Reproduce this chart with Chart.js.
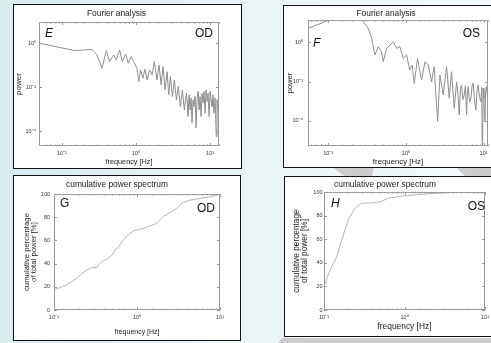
<!DOCTYPE html>
<html>
<head>
<meta charset="utf-8">
<script src="https://cdn.jsdelivr.net/npm/chart.js@4.4.1/dist/chart.umd.min.js"></script>
<style>
  html, body { margin: 0; padding: 0; }
  body {
    width: 491px; height: 343px; overflow: hidden; position: relative;
    background: linear-gradient(90deg, #d8ebf0 0%, #e8f3f6 45%, #f3f9fa 100%);
  }
  .box { position: absolute; border: 1px solid #111; background: #fff; }
  .box canvas { display: block; }
  .deco { position: absolute; background: #cdcdcd; }
</style>
</head>
<body>
<div class="deco" style="left:332px;top:167px;width:42px;height:9px;clip-path:polygon(0 0,100% 0,95% 100%,30% 100%)"></div>
<div class="deco" style="left:456px;top:167px;width:35px;height:9px;clip-path:polygon(0 0,100% 0,100% 100%,25% 100%)"></div>
<div class="deco" style="left:278px;top:338px;width:213px;height:5px;clip-path:polygon(2% 0,100% 0,100% 100%,0 100%)"></div>

<div class="box" style="left:13px;top:4px;width:227px;height:163px"><canvas id="chartE" width="227" height="163"></canvas></div>
<div class="box" style="left:283px;top:5px;width:227px;height:161px"><canvas id="chartF" width="227" height="161"></canvas></div>
<div class="box" style="left:13px;top:175px;width:226px;height:164px"><canvas id="chartG" width="226" height="164"></canvas></div>
<div class="box" style="left:284px;top:176px;width:227px;height:159px"><canvas id="chartH" width="227" height="159"></canvas></div>

<script>
// E: Fourier analysis, OD
const freqE = [0.0499, 0.151, 0.254, 0.297, 0.348, 0.397, 0.441, 0.499, 0.542, 0.601, 0.653, 0.724, 0.787, 0.855, 0.929,
  1.03, 1.09, 1.15, 1.24, 1.32, 1.41, 1.53, 1.65, 1.77, 1.92, 2.05, 2.18, 2.32, 2.47, 2.63, 2.76, 2.91, 3.10, 3.30,
  3.51, 3.73, 3.97, 4.23, 4.50, 4.79, 4.89, 5.04, 5.20, 5.37, 5.54, 5.71, 5.89, 6.08, 6.27, 6.47, 6.67, 6.89, 7.10,
  7.33, 7.56, 7.80, 8.04, 8.30, 8.56, 8.83, 9.11, 9.40, 9.69, 10.0, 10.3, 10.6, 11.0, 11.3, 11.7, 12.1, 12.4, 12.8, 13.2];
const powerE = [1.0, 0.464, 0.533, 0.295, 0.0731, 0.464, 0.147, 0.295, 0.175, 0.498, 0.147, 0.327, 0.123, 0.248, 0.147,
  0.0731, 0.0181, 0.0614, 0.0256, 0.0658, 0.0215, 0.0614, 0.0364, 0.147, 0.0215, 0.104, 0.0128, 0.0869, 0.00757, 0.0515,
  0.00449, 0.0305, 0.00377, 0.0215, 0.00266, 0.0107, 0.00132, 0.00757, 0.000933, 0.00533,
  2.7e-3, 4.6e-4, 4.5e-3, 9.3e-4, 3.2e-3, 2.3e-4, 2.7e-3, 1.3e-3, 3.8e-3, 1.4e-4, 2.7e-3, 6.4e-3, 9.3e-4, 3.8e-3,
  4.6e-4, 5.3e-3, 1.9e-3, 6.4e-3, 6.6e-4, 7.6e-3, 2.2e-3, 5.3e-3, 4.6e-4, 6.4e-3, 2.7e-3, 1.3e-3, 4.5e-3, 6.6e-4,
  3.2e-3, 5.7e-5, 2.7e-3, 9.3e-4, 1.6e-4];

// F: Fourier analysis, OS
const freqF = [0.0548, 0.105, 0.164, 0.269, 0.327, 0.362, 0.399, 0.440, 0.486, 0.510, 0.565, 0.687, 0.759, 0.837, 0.923,
  1.02, 1.12, 1.20, 1.28, 1.41, 1.59, 1.76, 1.94, 2.14, 2.31, 2.56, 2.74, 3.02, 3.34, 3.61, 3.87, 4.19, 4.50, 4.68,
  4.86, 5.03, 5.21, 5.40, 5.62, 5.83, 6.04, 6.20, 6.34, 6.60, 6.87, 7.10, 7.35, 7.65, 7.96, 8.25, 8.53, 8.85, 9.23,
  9.45, 9.66, 9.89, 10.1, 10.4, 10.65, 10.9, 11.2, 11.5, 12.1];
const powerF = [5.15, 14, 25, 14, 5.15, 1.6, 0.226, 0.597, 0.333, 0.103, 0.495, 1.07, 0.495, 0.597, 0.154,
  0.226, 0.0391, 0.0702, 0.00824, 0.154, 0.0121, 0.103, 0.0702, 0.00993, 0.0575, 9.2e-5, 0.0218, 0.00209, 0.0575,
  0.00142, 0.032, 4.4e-4, 0.00993, 0.0021, 2.0e-4, 0.0045, 0.00675, 0.0012, 0.00209, 0.0062, 2.0e-4, 0.0031,
  0.00553, 0.0009, 0.00142, 0.0058, 0.00824, 0.0011, 3.6e-4, 0.0040, 0.00675, 0.0017, 9.5e-4,
  0.0052, 1e-6, 0.00458, 0.0014, 9.2e-5, 0.0035, 0.00553, 0.0019, 6.5e-4, 0.00376];

// G: cumulative power spectrum, OD (%)
const freqG = [0.1, 0.141, 0.186, 0.246, 0.296, 0.324, 0.356, 0.391, 0.449, 0.515, 0.540, 0.593, 0.621, 0.681, 0.782,
  0.899, 1.08, 1.43, 1.72, 2.07, 2.49, 3.00, 3.44, 4.34, 5.74, 7.57, 10];
const cumG = [17.2, 21.6, 27.3, 34.5, 36.8, 36.5, 40.2, 42.5, 44.5, 48.3, 51.7, 54.0, 56.0, 60.3, 64.7,
  68.1, 69.5, 72.4, 74.7, 80.5, 83.9, 87.6, 92.0, 94.8, 96.3, 97.7, 100];

// H: cumulative power spectrum, OS (%)
const freqH = [0.1, 0.119, 0.144, 0.166, 0.200, 0.243, 0.294, 0.391, 0.520, 0.630, 1.0, 1.98, 3.85, 10];
const cumH = [19.8, 34.0, 45.3, 59.5, 76.5, 86.4, 90.7, 90.7, 92.1, 94.9, 96.9, 98.6, 99.7, 100];

// tick labels
const freqTicks = [0.1, 1, 10];
const freqTickLabels = ['10\u207B\u00B9', '10\u2070', '10\u00B9'];
const powerTicks = [1, 0.01, 0.0001];
const powerTickLabels = ['10\u2070', '10\u207B\u00B2', '10\u207B\u2074'];
const cumTicks = [0, 20, 40, 60, 80, 100];

Chart.defaults.font.family = 'Arial, "Liberation Sans", sans-serif';

// matlab-ish box around the plot with inward ticks, plus the panel letters
const panelFrame = {
  id: 'panelFrame',
  afterDatasetsDraw(chart, args, opts) {
    const { ctx, chartArea: a } = chart;
    const xs = chart.scales.x, ys = chart.scales.y;
    ctx.save();
    ctx.strokeStyle = '#999';
    ctx.lineWidth = 1;
    ctx.strokeRect(a.left + 0.5, a.top + 0.5, a.right - a.left - 1, a.bottom - a.top - 1);
    ctx.beginPath();
    xs.ticks.forEach(t => {
      const len = t.label ? 3 : 1.5;
      const px = Math.round(xs.getPixelForValue(t.value)) + 0.5;
      ctx.moveTo(px, a.bottom); ctx.lineTo(px, a.bottom - len);
      ctx.moveTo(px, a.top); ctx.lineTo(px, a.top + len);
    });
    ys.ticks.forEach(t => {
      const py = Math.round(ys.getPixelForValue(t.value)) + 0.5;
      ctx.moveTo(a.left, py); ctx.lineTo(a.left + 3, py);
      ctx.moveTo(a.right, py); ctx.lineTo(a.right - 3, py);
    });
    ctx.stroke();

    ctx.fillStyle = '#111';
    ctx.textBaseline = 'alphabetic';
    ctx.textAlign = 'left';
    ctx.font = (opts.italic ? 'italic ' : '') + '12px Arial, "Liberation Sans", sans-serif';
    ctx.fillText(opts.letter, opts.letterX, opts.letterY);
    ctx.textAlign = 'right';
    ctx.font = '12px Arial, "Liberation Sans", sans-serif';
    ctx.fillText(opts.eye, opts.eyeX, opts.eyeY);
    ctx.restore();
  }
};

function decadeLabel(v) {
  const i = freqTicks.findIndex(t => Math.abs(Math.log10(t) - Math.log10(v)) < 1e-6);
  return i >= 0 ? freqTickLabels[i] : '';
}

function makePanel(id, o) {
  const tickFont = { size: 5.5 };
  new Chart(document.getElementById(id), {
    type: 'line',
    data: {
      datasets: [{
        data: o.freq.map((f, i) => ({ x: f, y: o.vals[i] })),
        borderColor: o.lineColor,
        borderWidth: 1,
        pointRadius: 0,
        tension: 0
      }]
    },
    options: {
      responsive: false,
      animation: false,
      devicePixelRatio: 1,
      layout: { padding: { left: 0, right: o.padRight, top: 0, bottom: 0 } },
      plugins: {
        legend: { display: false },
        tooltip: { enabled: false },
        title: { display: true, text: o.title, color: '#222', font: { size: 8.4, weight: 'normal' }, padding: o.titlePad },
        panelFrame: o.marks
      },
      scales: {
        x: {
          type: 'logarithmic',
          min: o.xMin, max: o.xMax,
          grid: { display: false, drawTicks: false },
          border: { display: false },
          ticks: { autoSkip: false, maxRotation: 0, padding: 4, font: tickFont, color: '#333', callback: decadeLabel },
          title: { display: true, text: 'frequency [Hz]', color: '#222', font: { size: o.xTitleSize }, padding: { top: 0, bottom: o.xTitlePad } },
          afterFit: s => { s.height = o.xHeight; }
        },
        y: {
          type: o.yType,
          min: o.yMin, max: o.yMax,
          grid: { display: false, drawTicks: false },
          border: { display: false },
          afterBuildTicks: s => { s.ticks = o.yTicks.map(v => ({ value: v })); },
          ticks: { autoSkip: false, padding: o.yTickPad, font: tickFont, color: '#333', callback: (v, i) => o.yLabels[i] },
          title: { display: true, text: o.yTitle, color: '#222', font: o.yTitleFont, padding: { top: o.yTitlePad, bottom: 0 } },
          afterFit: s => { s.width = o.yWidth; }
        }
      }
    },
    plugins: [panelFrame]
  });
}

makePanel('chartE', {
  freq: freqE, vals: powerE, lineColor: '#8f8f8f', title: 'Fourier analysis',
  padRight: 22, titlePad: { top: 4, bottom: 3 },
  xMin: 0.049, xMax: 13.2, xHeight: 22, xTitleSize: 7.3, xTitlePad: 1.6,
  yType: 'logarithmic', yMin: 2.1e-5, yMax: 9.3, yTicks: powerTicks, yLabels: powerTickLabels,
  yWidth: 25, yTickPad: 3, yTitle: 'power', yTitleFont: { size: 8 }, yTitlePad: 0,
  marks: { letter: 'E', italic: true, letterX: 31, letterY: 32, eye: 'OD', eyeX: 199, eyeY: 32 }
});

makePanel('chartF', {
  freq: freqF, vals: powerF, lineColor: '#8f8f8f', title: 'Fourier analysis',
  padRight: 23, titlePad: { top: 3, bottom: 1 },
  xMin: 0.0548, xMax: 11.4, xHeight: 21, xTitleSize: 7.8, xTitlePad: 0,
  yType: 'logarithmic', yMin: 5.3e-6, yMax: 13.6, yTicks: powerTicks, yLabels: powerTickLabels,
  yWidth: 24, yTickPad: 5, yTitle: 'power', yTitleFont: { size: 7.6 }, yTitlePad: 1.4,
  marks: { letter: 'F', italic: true, letterX: 29, letterY: 41, eye: 'OS', eyeX: 196, eyeY: 31 }
});

makePanel('chartG', {
  freq: freqG, vals: cumG, lineColor: '#b4b4b4', title: 'cumulative power spectrum',
  padRight: 20, titlePad: { top: 4, bottom: 4 },
  xMin: 0.1, xMax: 10, xHeight: 30, xTitleSize: 7, xTitlePad: 3.5,
  yType: 'linear', yMin: 0, yMax: 100, yTicks: cumTicks, yLabels: cumTicks.map(String),
  yWidth: 40, yTickPad: 4, yTitle: ['cumulative percentage', 'of total power [%]'],
  yTitleFont: { size: 7.75, lineHeight: '7.5px' }, yTitlePad: 9,
  marks: { letter: 'G', italic: false, letterX: 46, letterY: 31, eye: 'OD', eyeX: 201, eyeY: 36 }
});

makePanel('chartH', {
  freq: freqH, vals: cumH, lineColor: '#b4b4b4', title: 'cumulative power spectrum',
  padRight: 27, titlePad: { top: 3, bottom: 2 },
  xMin: 0.1, xMax: 10, xHeight: 26, xTitleSize: 8.4, xTitlePad: 4.3,
  yType: 'linear', yMin: 0, yMax: 100, yTicks: cumTicks, yLabels: cumTicks.map(String),
  yWidth: 39, yTickPad: 1.5, yTitle: ['cumulative percentage', 'of total power [%]'],
  yTitleFont: { size: 8.3, lineHeight: '8.3px' }, yTitlePad: 7.5,
  marks: { letter: 'H', italic: true, letterX: 46, letterY: 30, eye: 'OS', eyeX: 200, eyeY: 33 }
});
</script>
</body>
</html>
